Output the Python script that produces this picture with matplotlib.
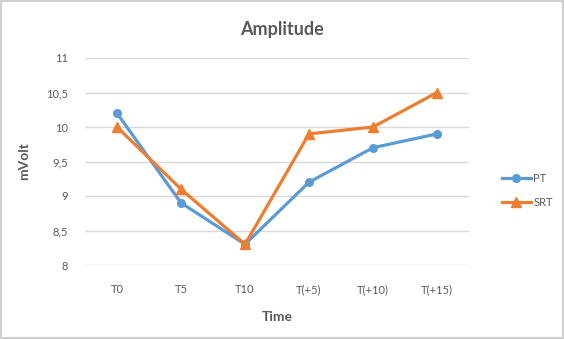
import matplotlib
matplotlib.use("Agg")
import matplotlib.pyplot as plt
from matplotlib.patches import Rectangle

categories = ["T0", "T5", "T10", "T(+5)", "T(+10)", "T(+15)"]
pt_values = [10.2, 8.9, 8.3, 9.2, 9.7, 9.9]
srt_values = [10.0, 9.1, 8.3, 9.9, 10.0, 10.5]
y_ticks = [8, 8.5, 9, 9.5, 10, 10.5, 11]
y_tick_labels = ["8", "8,5", "9", "9,5", "10", "10,5", "11"]

plt.rcParams['font.family'] = ['Lato', 'DejaVu Sans']
txt = "#595959"

fig = plt.figure(figsize=(5.64, 3.39), dpi=100)
fig.patches.append(Rectangle((0, 0), 1, 1, transform=fig.transFigure,
                             fill=False, edgecolor="#D0D0D0", linewidth=3))
ax = fig.add_axes([85/564, 1-265/339, 384/564, 207/339])

x = list(range(len(categories)))
ax.plot(x, pt_values, color="#5B9BD5", linewidth=2.3, marker="o", markersize=5.5, label="PT", zorder=3)
ax.plot(x, srt_values, color="#ED7D31", linewidth=2.3, marker="^", markersize=7, label="SRT", zorder=4)

ax.set_xlim(-0.5, len(categories) - 0.5)
ax.set_ylim(8, 11)
ax.set_yticks(y_ticks)
ax.set_yticklabels(y_tick_labels)
ax.set_xticks(x)
ax.set_xticklabels(categories)
ax.grid(axis="y", color="#D9D9D9", linewidth=1)
ax.set_axisbelow(True)
for s in ax.spines.values():
    s.set_visible(False)
ax.tick_params(length=0, colors=txt, labelsize=8)
ax.tick_params(axis="x", pad=14)
ax.tick_params(axis="y", pad=12)

ax.set_xlabel("Time", fontsize=10, fontweight="bold", color=txt, labelpad=11)
ax.set_ylabel("mVolt", fontsize=10, fontweight="bold", color=txt, labelpad=12)
fig.text(282/564, 1-29/339, "Amplitude", ha="center", va="center",
         fontsize=13, fontweight="bold", color=txt)

leg = ax.legend(loc="center left", bbox_to_anchor=(1.06, 0.36), frameon=False,
                fontsize=8, handlelength=2.6, labelspacing=1.1, handletextpad=0.2)
for t in leg.get_texts():
    t.set_color(txt)

fig.savefig("out.png", dpi=100)
